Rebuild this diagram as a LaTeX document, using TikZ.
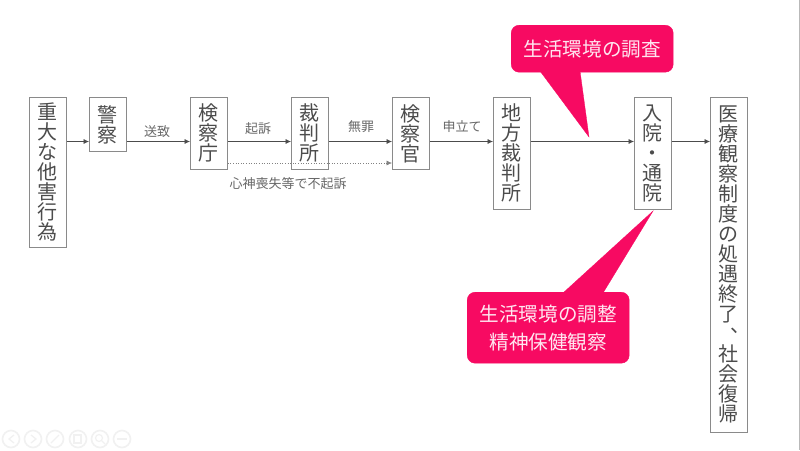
\documentclass[tikz,border=0pt]{standalone}
\usepackage{fontspec}
\setmainfont{Noto Sans CJK JP}
\usetikzlibrary{arrows.meta}
\definecolor{ink}{HTML}{4C4C4C}
\definecolor{edge}{HTML}{8A8A8A}
\definecolor{hot}{HTML}{F70A62}
\definecolor{pale}{HTML}{FFE6F0}
\definecolor{faint}{HTML}{F1F1F1}
\tikzset{
  x=1pt,y=-1pt,
  tate/.style={draw=edge,line width=0.8pt,fill=white,anchor=north west,minimum width=37pt,
    inner sep=0pt,align=center,text=ink,font=\fontsize{20}{20}\selectfont},
  arr/.style={draw=ink,line width=0.6pt,-{Latex[length=5.5pt,width=5pt]}},
  dotarr/.style={arr,dotted},
  lab/.style={text=ink!85,font=\fontsize{13}{13}\selectfont,inner sep=0pt},
  call/.style={fill=hot,draw=hot,rounded corners=8pt,inner sep=0pt,anchor=north west,align=center,
    text=pale,font=\fontsize{19.6}{28}\selectfont},
  tail/.style={fill=hot,draw=hot,line width=0.3pt},
  tool/.style={draw=faint,line width=1.6pt},
}
\begin{document}
\begin{tikzpicture}
\useasboundingbox (0,0) rectangle (800,450);
\fill[white] (0,0) rectangle (800,450);
\draw[edge!60,line width=0.8pt] (799,0) -- (799,450);

\coordinate (rowa) at (0,141.5);
\coordinate (rowb) at (0,163);

% tail shapes and callouts
\node[call,minimum width=162pt,minimum height=47pt] (c1) at (511,25) {生活環境の調査};
\node[call,minimum width=162pt,minimum height=71pt] (c2) at (467,292) {生活環境の調整\\精神保健観察};

% boxes
\node[tate,minimum height=150pt] (n1) at (29,97) {重\\大\\な\\他\\害\\行\\為};
\node[tate,minimum height=54pt] (n2) at (89,97) {警\\察};
\node[tate,minimum height=72pt] (n3) at (190,97) {検\\察\\庁};
\node[tate,minimum height=72pt] (n4) at (291,97) {裁\\判\\所};
\node[tate,minimum height=72pt] (n5) at (392,97) {検\\察\\官};
\node[tate,minimum height=112pt] (n6) at (493,97) {地\\方\\裁\\判\\所};
\node[tate,minimum height=112pt] (n7) at (634,97) {入\\院\\・\\通\\院};
\node[tate,minimum height=335pt] (n8) at (710,97) {医\\療\\観\\察\\制\\度\\の\\処\\遇\\終\\了\\\smash{\makebox[20pt][l]{\hspace{12pt}\raisebox{9pt}{、}}}\\社\\会\\復\\帰};

% connectors
\draw[arr] (n1.east |- rowa) -- (n2.west |- rowa);
\draw[arr] (n2.east |- rowa) -- (n3.west |- rowa);
\draw[arr] (n3.east |- rowa) -- (n4.west |- rowa);
\draw[arr] (n4.east |- rowa) -- (n5.west |- rowa);
\draw[arr] (n5.east |- rowa) -- (n6.west |- rowa);
\draw[arr] (n6.east |- rowa) -- (n7.west |- rowa);
\draw[arr] (n7.east |- rowa) -- (n8.west |- rowa);
\draw[dotarr,draw=ink!70] (n3.east |- rowb) -- (n5.west |- rowb);

% callout tails, over the lines
\fill[tail] (540,71) -- (589,137) -- (580,71) -- cycle;
\fill[tail] (563,293) -- (653,211) -- (603,293) -- cycle;

% labels
\node[lab] (l1) at (157,132) {送致};
\node[lab] (l2) at (258,129) {起訴};
\node[lab] (l3) at (361,127) {無罪};
\node[lab] (l4) at (462,127) {申立て};
\node[lab] (l5) at (288,184) {心神喪失等で不起訴};

% faint toolbar
\foreach \cx in {11,33,55,78,100,122} \draw[tool] (\cx,439) circle (8.5);
\draw[tool,line width=1.2pt] (14,435) -- (9,439) -- (14,443);
\draw[tool,line width=1.2pt] (31,435) -- (36,439) -- (31,443);
\draw[tool,line width=1.2pt] (51,443) -- (59,435);
\draw[tool,line width=1.2pt] (74,435) rectangle (81,443);
\draw[tool,line width=1.2pt] (99,438) circle (3.5) (102,441) -- (105,444);
\draw[tool,line width=1.2pt] (117,439) -- (127,439);
\end{tikzpicture}
\end{document}
